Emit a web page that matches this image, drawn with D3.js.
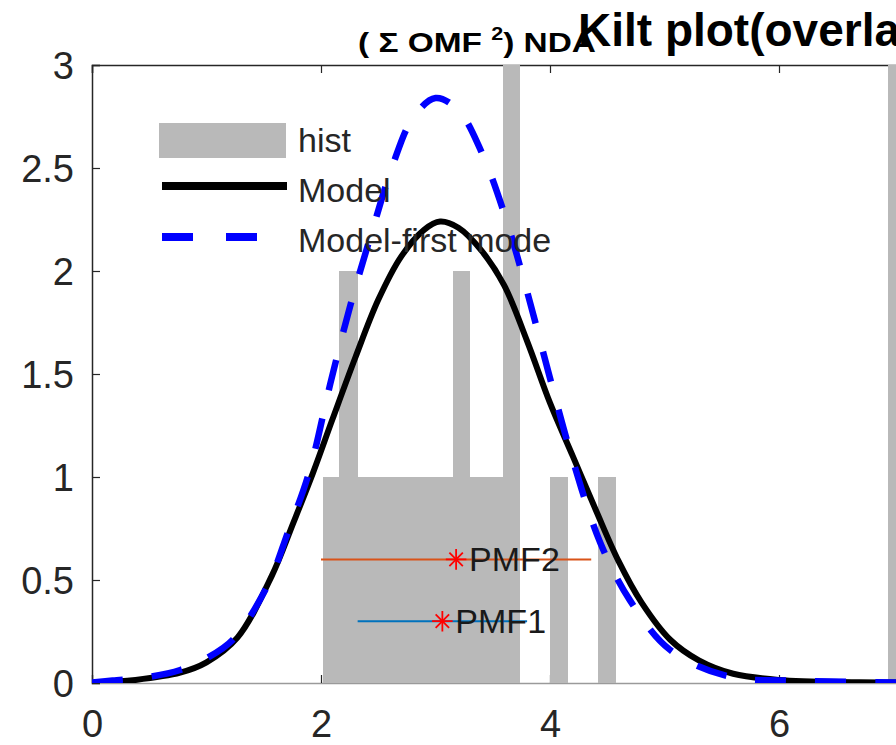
<!DOCTYPE html>
<html lang="en">
<head>
<meta charset="UTF-8">
<title>Kilt plot</title>
<script src="https://cdn.jsdelivr.net/npm/d3@7/dist/d3.min.js"></script>
<style>
	body { margin: 0; background: #fff; }
	svg { display: block; font-family: "Liberation Sans", Arial, sans-serif; }
</style>
</head>
<body>
<div id="chart"></div>
<script>
// histogram bins: left edge, right edge, count
var binStart = [2.02, 2.16, 2.32, 2.49, 2.65, 2.82, 2.98, 3.15, 3.30, 3.45, 3.59, 4.00, 4.42, 6.95];
var binEnd   = [2.16, 2.32, 2.49, 2.65, 2.82, 2.98, 3.15, 3.30, 3.45, 3.59, 3.74, 4.16, 4.58, 7.11];
var binCount = [1, 2, 1, 1, 1, 1, 1, 2, 1, 1, 3, 1, 1, 3];

// Model curve
var modelX = [0, 0.38, 0.77, 1.0, 1.27, 1.57, 1.76, 1.93, 2.10, 2.30, 2.50, 2.70, 2.90, 3.04, 3.20, 3.40, 3.60, 3.80, 4.00, 4.20, 4.40, 4.60, 4.80, 5.05, 5.30, 5.60, 6.0, 6.7, 7.2];
var modelY = [0, 0.015, 0.05, 0.10, 0.22, 0.52, 0.78, 1.02, 1.28, 1.58, 1.86, 2.07, 2.20, 2.24, 2.21, 2.10, 1.93, 1.66, 1.36, 1.10, 0.84, 0.59, 0.39, 0.21, 0.11, 0.045, 0.015, 0.004, 0.001];

// Model-first mode curve
var firstX = [0, 0.18, 0.5, 0.77, 1.0, 1.23, 1.53, 1.71, 1.90, 2.08, 2.25, 2.45, 2.63, 2.80, 3.00, 3.20, 3.40, 3.60, 3.80, 4.00, 4.20, 4.44, 4.70, 5.05, 5.57, 6.07, 7.2];
var firstY = [0.002, 0.012, 0.03, 0.063, 0.12, 0.21, 0.47, 0.73, 1.03, 1.45, 1.82, 2.20, 2.52, 2.74, 2.84, 2.78, 2.58, 2.28, 1.90, 1.48, 1.08, 0.68, 0.40, 0.16, 0.03, 0.012, 0.002];

// PMF markers
var pmfNames = ["PMF1", "PMF2"];
var pmfLo    = [2.32, 2.00];
var pmfMean  = [3.06, 3.18];
var pmfHi    = [3.80, 4.36];
var pmfLevel = [0.30, 0.60];
var pmfColor = ["#0072bd", "#d95319"];

var xTicks = [0, 2, 4, 6];
var yTicks = [0, 0.5, 1, 1.5, 2, 2.5, 3];
var legendNames = ["hist", "Model", "Model-first mode"];

window.onload = function(){
	var W = 896, H = 745;
	var svg = d3.select("#chart").append("svg")
		.attr("width", W)
		.attr("height", H);

	var xScale = d3.scaleLinear().domain([0, 8]).range([92, 1008]);
	var yScale = d3.scaleLinear().domain([0, 3]).range([683, 65]);

	svg.append("clipPath").attr("id", "plotclip")
		.append("rect")
		.attr("x", xScale(0)).attr("y", yScale(3))
		.attr("width", xScale(8) - xScale(0))
		.attr("height", yScale(0) - yScale(3));

	// axes (drawn under the data, like matlab)
	var axisColor = "#262626";
	var xAxis = d3.axisBottom(xScale).tickValues(xTicks).tickSize(-8).tickPadding(27).tickFormat(d3.format("d"));
	var yAxis = d3.axisLeft(yScale).tickValues(yTicks).tickSize(-8).tickPadding(18).tickFormat(function(d){ return String(d); });
	var xTop = d3.axisTop(xScale).tickValues(xTicks).tickSize(-8).tickFormat("");

	var gx = svg.append("g").attr("transform", "translate(0," + yScale(0) + ")").call(xAxis);
	var gy = svg.append("g").attr("transform", "translate(" + xScale(0) + ",0)").call(yAxis);
	var gt = svg.append("g").attr("transform", "translate(0," + yScale(3) + ")").call(xTop);

	[gx, gy, gt].forEach(function(g){
		g.select(".domain").attr("stroke", axisColor).attr("stroke-width", 1.5);
		g.selectAll(".tick line").attr("stroke", axisColor).attr("stroke-width", 1.2);
		g.selectAll(".tick text").attr("fill", axisColor).attr("font-size", 38)
			.attr("font-family", "'Liberation Sans', Arial, sans-serif");
	});
	gx.select(".domain").attr("stroke", "#9a9a9a");
	gy.selectAll(".tick text").attr("dy", "0.36em");

	var plot = svg.append("g").attr("clip-path", "url(#plotclip)");

	// histogram
	var bins = binStart.map(function(d, i){ return {x0: d, x1: binEnd[i], n: binCount[i]}; });
	plot.selectAll("rect.bin").data(bins).enter().append("rect")
		.attr("class", "bin")
		.attr("x", function(d){ return xScale(d.x0); })
		.attr("y", function(d){ return yScale(d.n); })
		.attr("width", function(d){ return xScale(d.x1) - xScale(d.x0); })
		.attr("height", function(d){ return yScale(0) - yScale(d.n); })
		.attr("fill", "#b9b9b9")
		.attr("shape-rendering", "crispEdges");

	var line = d3.line()
		.x(function(d){ return xScale(d[0]); })
		.y(function(d){ return yScale(d[1]); })
		.curve(d3.curveCatmullRom.alpha(0.5));

	plot.append("path")
		.datum(d3.zip(modelX, modelY))
		.attr("d", line)
		.attr("fill", "none")
		.attr("stroke", "#000")
		.attr("stroke-width", 6);

	plot.append("path")
		.datum(d3.zip(firstX, firstY))
		.attr("d", line)
		.attr("fill", "none")
		.attr("stroke", "#0000ff")
		.attr("stroke-width", 6.5)
		.attr("stroke-dasharray", "31,29");

	// PMF lines, stars and labels
	pmfNames.forEach(function(name, i){
		var yy = yScale(pmfLevel[i]);
		plot.append("line")
			.attr("x1", xScale(pmfLo[i])).attr("x2", xScale(pmfHi[i]))
			.attr("y1", yy).attr("y2", yy)
			.attr("stroke", pmfColor[i]).attr("stroke-width", 2);
		var cx = xScale(pmfMean[i]);
		plot.append("path")
			.attr("d", d3.symbol(d3.symbolPlus, 140)())
			.attr("transform", "translate(" + cx + "," + yy + ")")
			.attr("fill", "none").attr("stroke", "#ff0000").attr("stroke-width", 1.8);
		plot.append("path")
			.attr("d", d3.symbol(d3.symbolTimes, 120)())
			.attr("transform", "translate(" + cx + "," + yy + ")")
			.attr("fill", "none").attr("stroke", "#ff0000").attr("stroke-width", 1.8);
		plot.append("text")
			.attr("x", cx + 13).attr("y", yy + 12)
			.attr("font-size", 34)
			.attr("fill", "#1a1a1a")
			.text(name);
	});

	// legend
	var lg = svg.append("g");
	lg.append("rect").attr("x", 159).attr("y", 123).attr("width", 127).attr("height", 35).attr("fill", "#b9b9b9");
	lg.append("line").attr("x1", 162).attr("x2", 287).attr("y1", 186).attr("y2", 186)
		.attr("stroke", "#000").attr("stroke-width", 8);
	lg.append("line").attr("x1", 162).attr("x2", 290).attr("y1", 237).attr("y2", 237)
		.attr("stroke", "#0000ff").attr("stroke-width", 8).attr("stroke-dasharray", "31,33");
	lg.selectAll("text").data(legendNames).enter().append("text")
		.attr("x", 298)
		.attr("y", function(d, i){ return 152 + i * 50; })
		.attr("font-size", 34)
		.attr("fill", "#262626")
		.text(function(d){ return d; });

	// titles
	var t1 = svg.append("text").attr("x", 358).attr("y", 52)
		.attr("font-size", 28).attr("font-weight", "bold").attr("fill", "#000")
		.attr("textLength", 238).attr("lengthAdjust", "spacingAndGlyphs");
	t1.append("tspan").text("( \u03a3 OMF ");
	t1.append("tspan").attr("font-size", 18).attr("dy", -12).text("2");
	t1.append("tspan").attr("dy", 12).text(") NDA");

	svg.append("text").attr("x", 578).attr("y", 46)
		.attr("font-size", 46).attr("font-weight", "bold").attr("fill", "#000")
		.text("Kilt plot(overlay)");
};
</script>
</body>
</html>
